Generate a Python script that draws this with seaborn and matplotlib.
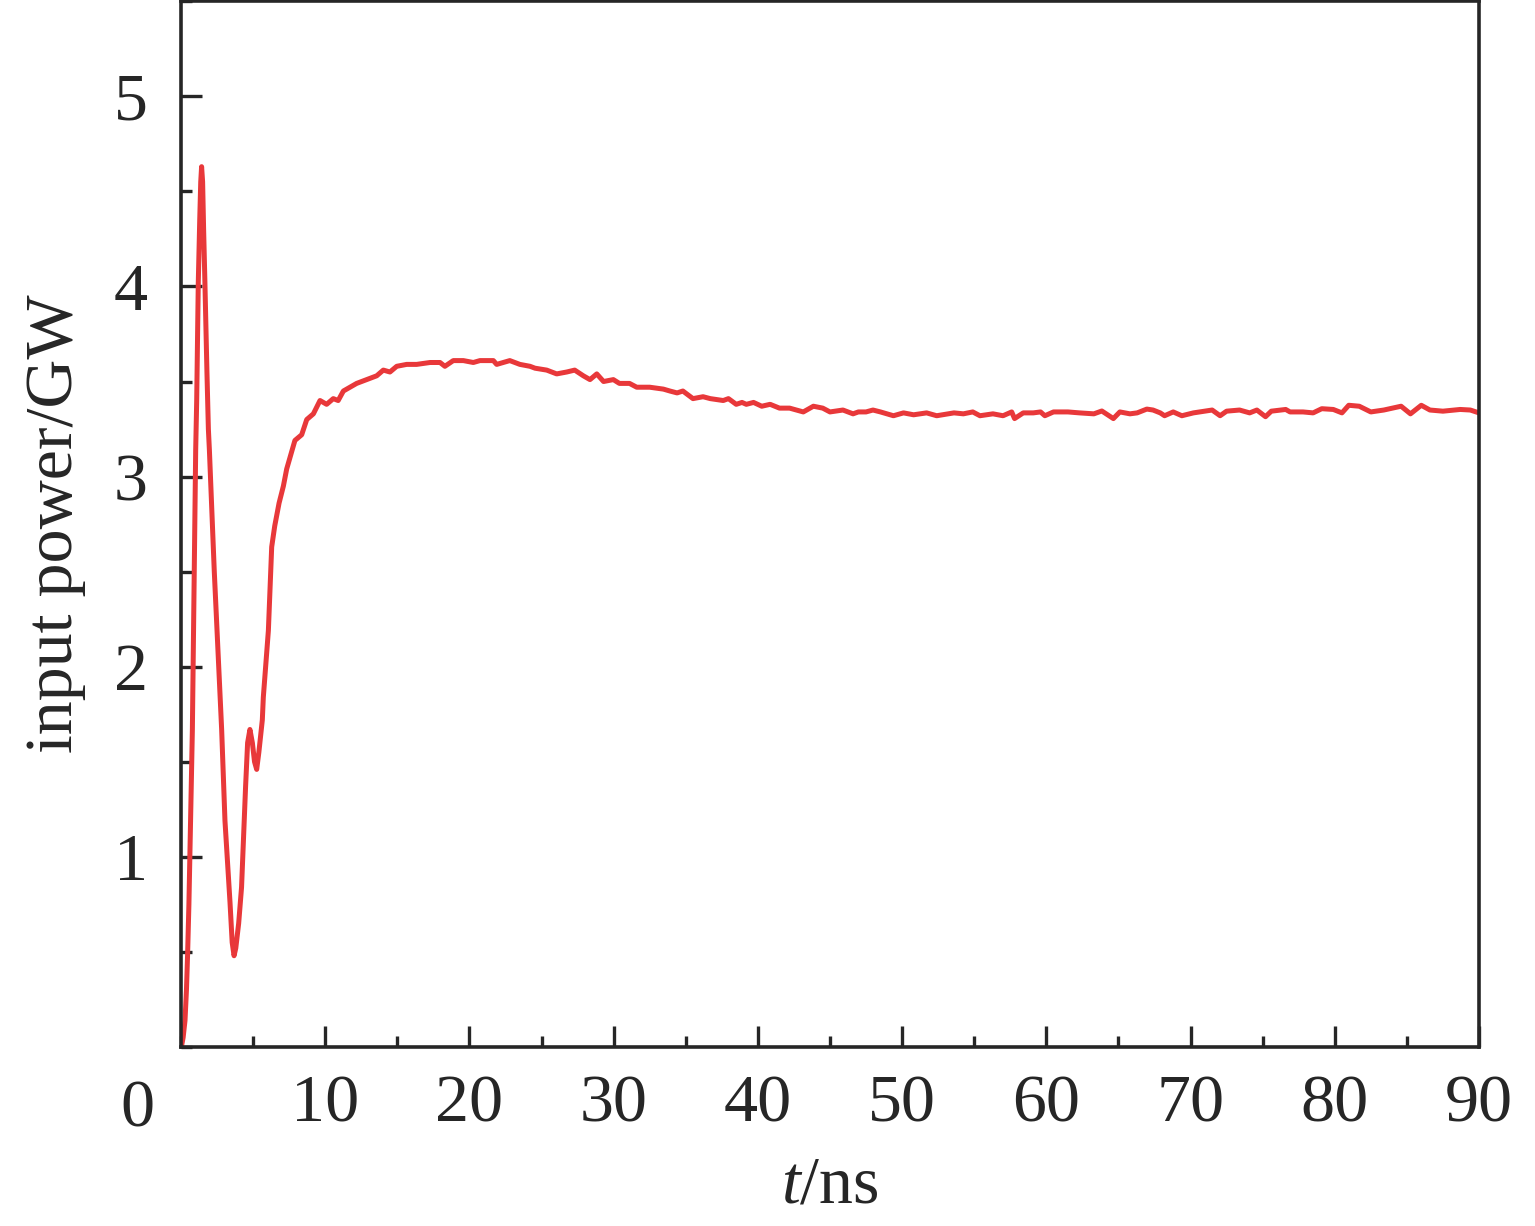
import numpy as np
import pandas as pd
import seaborn as sns
import matplotlib.pyplot as plt
from matplotlib.ticker import MultipleLocator

# values (t in ns, power in GW)
t_ns = [0, 0.05, 0.15, 0.28, 0.38, 0.46, 0.55, 0.62, 0.72, 0.79, 0.92, 1.02, 1.09, 1.2,
        1.3, 1.37, 1.43, 1.5, 1.57, 1.66, 1.8, 1.9, 1.97, 2.31, 2.82, 3.05, 3.4, 3.55,
        3.68, 3.8, 4.0, 4.2, 4.48, 4.62, 4.78, 4.95, 5.1, 5.25, 5.4, 5.64, 5.71, 6.06,
        6.29, 6.5, 6.8, 7.1, 7.33, 7.9, 8.37, 8.72, 9.18, 9.64, 10.1, 10.56, 10.9, 11.26,
        12.18, 12.88, 13.57, 14.03, 14.49, 14.96, 15.65, 16.34, 17.27, 17.96, 18.3, 18.88,
        19.58, 20.27, 20.73, 21.66, 21.89, 22.8, 23.5, 24.2, 24.55, 25.36, 26.05, 26.75,
        27.3, 27.9, 28.36, 28.83, 29.3, 29.98, 30.4, 31.1, 31.6, 32.5, 33.45, 33.9, 34.4,
        34.8, 35.5, 36.2, 36.7, 37.6, 37.96, 38.5, 38.9, 39.2, 39.7, 40.27, 40.85, 41.5,
        42.2, 43.15, 43.85, 44.5, 45.0, 45.9, 46.6, 46.97, 47.5, 47.98, 48.5, 49.4, 50.1,
        50.8, 51.7, 52.4, 53.6, 54.25, 54.9, 55.4, 56.3, 57.0, 57.6, 57.8, 58.4, 59.1,
        59.6, 59.9, 60.5, 60.96, 61.5, 62.3, 63.3, 63.85, 64.65, 65.1, 65.8, 66.3, 66.97,
        67.4, 67.9, 68.2, 68.8, 69.4, 70.2, 71.5, 72.05, 72.5, 73.4, 74.1, 74.6, 75.2,
        75.6, 76.6, 76.9, 77.8, 78.5, 79.1, 79.9, 80.5, 80.97, 81.7, 82.5, 83.4, 84.6,
        85.25, 86.0, 86.6, 87.5, 88.7, 89.4, 90.0]
power_gw = [0, 0.01, 0.05, 0.14, 0.3, 0.49, 0.75, 1.02, 1.4, 1.67, 2.5, 3.14, 3.4, 4.02,
            4.35, 4.55, 4.63, 4.55, 4.3, 4.02, 3.55, 3.25, 3.14, 2.5, 1.67, 1.19, 0.76, 0.55,
            0.48, 0.52, 0.65, 0.84, 1.37, 1.6, 1.67, 1.6, 1.5, 1.46, 1.55, 1.72, 1.84, 2.19,
            2.63, 2.74, 2.86, 2.95, 3.04, 3.19, 3.22, 3.30, 3.33, 3.40, 3.38, 3.41, 3.40, 3.45,
            3.49, 3.51, 3.53, 3.56, 3.55, 3.58, 3.59, 3.59, 3.60, 3.60, 3.58, 3.61,
            3.61, 3.60, 3.61, 3.61, 3.59, 3.61, 3.59, 3.58, 3.57, 3.56, 3.54, 3.55,
            3.56, 3.53, 3.51, 3.54, 3.50, 3.51, 3.49, 3.49, 3.47, 3.47, 3.46, 3.45, 3.44,
            3.45, 3.41, 3.42, 3.41, 3.40, 3.41, 3.38, 3.39, 3.38, 3.39, 3.37, 3.38, 3.36,
            3.36, 3.34, 3.37, 3.36, 3.34, 3.35, 3.33, 3.34, 3.34, 3.35, 3.34, 3.32, 3.335,
            3.325, 3.335, 3.32, 3.335, 3.33, 3.34, 3.32, 3.33, 3.32, 3.34, 3.305, 3.335, 3.335,
            3.34, 3.32, 3.34, 3.34, 3.34, 3.335, 3.33, 3.345, 3.305, 3.34, 3.33, 3.335, 3.355,
            3.35, 3.335, 3.32, 3.34, 3.32, 3.335, 3.35, 3.32, 3.344, 3.35, 3.335, 3.35, 3.315,
            3.344, 3.353, 3.34, 3.34, 3.335, 3.357, 3.353, 3.335, 3.375, 3.37, 3.34, 3.35, 3.37,
            3.33, 3.375, 3.35, 3.344, 3.353, 3.35, 3.335]

x_ticks = [10, 20, 30, 40, 50, 60, 70, 80, 90]
y_ticks = [1, 2, 3, 4, 5]

df = pd.DataFrame({'t': t_ns, 'power': power_gw})

sns.set_theme(style='ticks')
plt.rcParams['font.family'] = ['Liberation Serif', 'DejaVu Serif']
plt.rcParams['mathtext.fontset'] = 'custom'
plt.rcParams['mathtext.rm'] = 'Liberation Serif'
plt.rcParams['mathtext.it'] = 'Liberation Serif:italic'

fig = plt.figure(figsize=(15.35, 12.26), dpi=100)
ax = fig.add_axes([0.1179, 0.146, 0.8456, 0.853])

sns.lineplot(data=df, x='t', y='power', ax=ax, color='#e8383a', linewidth=3.6,
             estimator=None, sort=False)

ax.set_xlim(0, 90)
ax.set_ylim(0, 5.5)
ax.set_xticks(x_ticks)
ax.set_yticks(y_ticks)
ax.xaxis.set_minor_locator(MultipleLocator(5))
ax.yaxis.set_minor_locator(MultipleLocator(0.5))

dark = '#262626'
fs = 49
for side in ['left', 'right', 'top', 'bottom']:
    ax.spines[side].set_linewidth(2.6)
    ax.spines[side].set_color(dark)
ax.tick_params(which='major', direction='in', length=15, width=2.4, color=dark,
               labelsize=fs, labelcolor=dark, top=False, right=False)
ax.tick_params(which='minor', direction='in', length=8, width=2.4, color=dark,
               top=False, right=False)
ax.tick_params(axis='x', which='major', pad=20)
ax.tick_params(axis='y', which='major', pad=24)

# lone "0" at the corner, as in the original
ax.text(-3.0, -0.17, '0', transform=ax.transData, ha='center', va='top',
        fontsize=fs, color=dark, clip_on=False)

ax.set_xlabel('$t$/ns', fontsize=fs, color=dark, labelpad=14)
ax.set_ylabel('input power/GW', fontsize=fs, color=dark, labelpad=20)

fig.savefig('out.png', dpi=100)
